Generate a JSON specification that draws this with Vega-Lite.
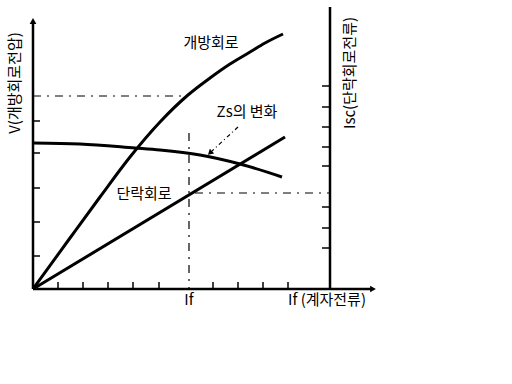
{
  "$schema": "https://vega.github.io/schema/vega-lite/v6.json",
  "width": 344,
  "height": 284,
  "autosize": "none",
  "padding": {"left": 33, "top": 5, "right": 135, "bottom": 95},
  "background": "white",
  "config": {"view": {"stroke": null}, "text": {"font": "Noto Sans CJK KR", "fontSize": 15, "color": "black"}},
  "datasets": {
    "curves": [
      {"s": "개방회로", "x": 0, "y": 0}, {"s": "개방회로", "x": 37, "y": 51}, {"s": "개방회로", "x": 67, "y": 92},
      {"s": "개방회로", "x": 97, "y": 132}, {"s": "개방회로", "x": 127, "y": 167}, {"s": "개방회로", "x": 155, "y": 194},
      {"s": "개방회로", "x": 177, "y": 211}, {"s": "개방회로", "x": 197, "y": 225}, {"s": "개방회로", "x": 217, "y": 237},
      {"s": "개방회로", "x": 232, "y": 246}, {"s": "개방회로", "x": 250, "y": 255},
      {"s": "Zs", "x": 0, "y": 146}, {"s": "Zs", "x": 47, "y": 145}, {"s": "Zs", "x": 102, "y": 141},
      {"s": "Zs", "x": 127, "y": 139}, {"s": "Zs", "x": 167, "y": 134}, {"s": "Zs", "x": 207, "y": 125},
      {"s": "Zs", "x": 249, "y": 112},
      {"s": "단락회로", "x": 0, "y": 0}, {"s": "단락회로", "x": 252, "y": 152}
    ],
    "axes": [
      {"x": 0, "y": 0, "x2": 0, "y2": 266},
      {"x": 297, "y": 0, "x2": 297, "y2": 282},
      {"x": 0, "y": 0, "x2": 338, "y2": 0}
    ],
    "ticks": [
      {"x": 0, "y": 168, "x2": 7, "y2": 168}, {"x": 0, "y": 136, "x2": 7, "y2": 136}, {"x": 0, "y": 101, "x2": 7, "y2": 101},
      {"x": 0, "y": 67, "x2": 7, "y2": 67}, {"x": 0, "y": 33, "x2": 7, "y2": 33},
      {"x": 25, "y": 0, "x2": 25, "y2": 7}, {"x": 50, "y": 0, "x2": 50, "y2": 7}, {"x": 75, "y": 0, "x2": 75, "y2": 7},
      {"x": 100, "y": 0, "x2": 100, "y2": 7}, {"x": 126, "y": 0, "x2": 126, "y2": 7}, {"x": 180, "y": 0, "x2": 180, "y2": 7},
      {"x": 205, "y": 0, "x2": 205, "y2": 7}, {"x": 230, "y": 0, "x2": 230, "y2": 7}, {"x": 255, "y": 0, "x2": 255, "y2": 7},
      {"x": 289, "y": 203, "x2": 297, "y2": 203}, {"x": 289, "y": 182, "x2": 297, "y2": 182}, {"x": 289, "y": 162, "x2": 297, "y2": 162},
      {"x": 289, "y": 142, "x2": 297, "y2": 142}, {"x": 289, "y": 123, "x2": 297, "y2": 123}, {"x": 289, "y": 82, "x2": 297, "y2": 82},
      {"x": 289, "y": 61, "x2": 297, "y2": 61}, {"x": 289, "y": 41, "x2": 297, "y2": 41}
    ],
    "dashes": [
      {"x": 0, "y": 193, "x2": 155, "y2": 193},
      {"x": 156, "y": 156, "x2": 156, "y2": 0},
      {"x": 162, "y": 96, "x2": 297, "y2": 96}
    ],
    "pointer": [{"x": 205, "y": 162, "x2": 179, "y2": 138}],
    "pointerHead": [{"x": 177, "y": 136}],
    "upArrow": [{"x": 0, "y": 268}],
    "rightArrow": [{"x": 340, "y": 0}],
    "labels": [
      {"t": "개방회로", "x": 178, "y": 246},
      {"t": "Zs의 변화", "x": 214, "y": 177},
      {"t": "단락회로", "x": 111, "y": 95},
      {"t": "If", "x": 156, "y": -11},
      {"t": "If (계자전류)", "x": 294, "y": -11}
    ],
    "vlabels": [
      {"t": "V(개방회로전압)", "x": -18, "y": 206},
      {"t": "Isc(단락회로전류)", "x": 317, "y": 216}
    ]
  },
  "encoding": {
    "x": {"field": "x", "type": "quantitative", "scale": {"domain": [0, 344], "nice": false, "zero": false}, "axis": null},
    "y": {"field": "y", "type": "quantitative", "scale": {"domain": [0, 284], "nice": false, "zero": false}, "axis": null}
  },
  "layer": [
    {"data": {"name": "dashes"}, "mark": {"type": "rule", "stroke": "black", "strokeWidth": 1.2, "strokeDash": [8, 6, 2, 6]},
     "encoding": {"x2": {"field": "x2"}, "y2": {"field": "y2"}}},
    {"data": {"name": "pointer"}, "mark": {"type": "rule", "stroke": "black", "strokeWidth": 1.2, "strokeDash": [4, 3, 1, 3]},
     "encoding": {"x2": {"field": "x2"}, "y2": {"field": "y2"}}},
    {"data": {"name": "pointerHead"}, "mark": {"type": "point", "shape": "triangle-up", "filled": true, "color": "black", "size": 40, "angle": 227, "opacity": 1}},
    {"data": {"name": "axes"}, "mark": {"type": "rule", "stroke": "black", "strokeWidth": 2.5},
     "encoding": {"x2": {"field": "x2"}, "y2": {"field": "y2"}}},
    {"data": {"name": "ticks"}, "mark": {"type": "rule", "stroke": "black", "strokeWidth": 1.5},
     "encoding": {"x2": {"field": "x2"}, "y2": {"field": "y2"}}},
    {"data": {"name": "upArrow"}, "mark": {"type": "point", "shape": "triangle-up", "filled": true, "color": "black", "size": 45, "opacity": 1}},
    {"data": {"name": "rightArrow"}, "mark": {"type": "point", "shape": "triangle-right", "filled": true, "color": "black", "size": 45, "opacity": 1}},
    {"data": {"name": "curves"}, "mark": {"type": "line", "stroke": "black", "strokeWidth": 3, "interpolate": "monotone"},
     "encoding": {"detail": {"field": "s"}}},
    {"data": {"name": "labels"}, "mark": {"type": "text"}, "encoding": {"text": {"field": "t"}}},
    {"data": {"name": "vlabels"}, "mark": {"type": "text", "angle": 270}, "encoding": {"text": {"field": "t"}}}
  ]
}
